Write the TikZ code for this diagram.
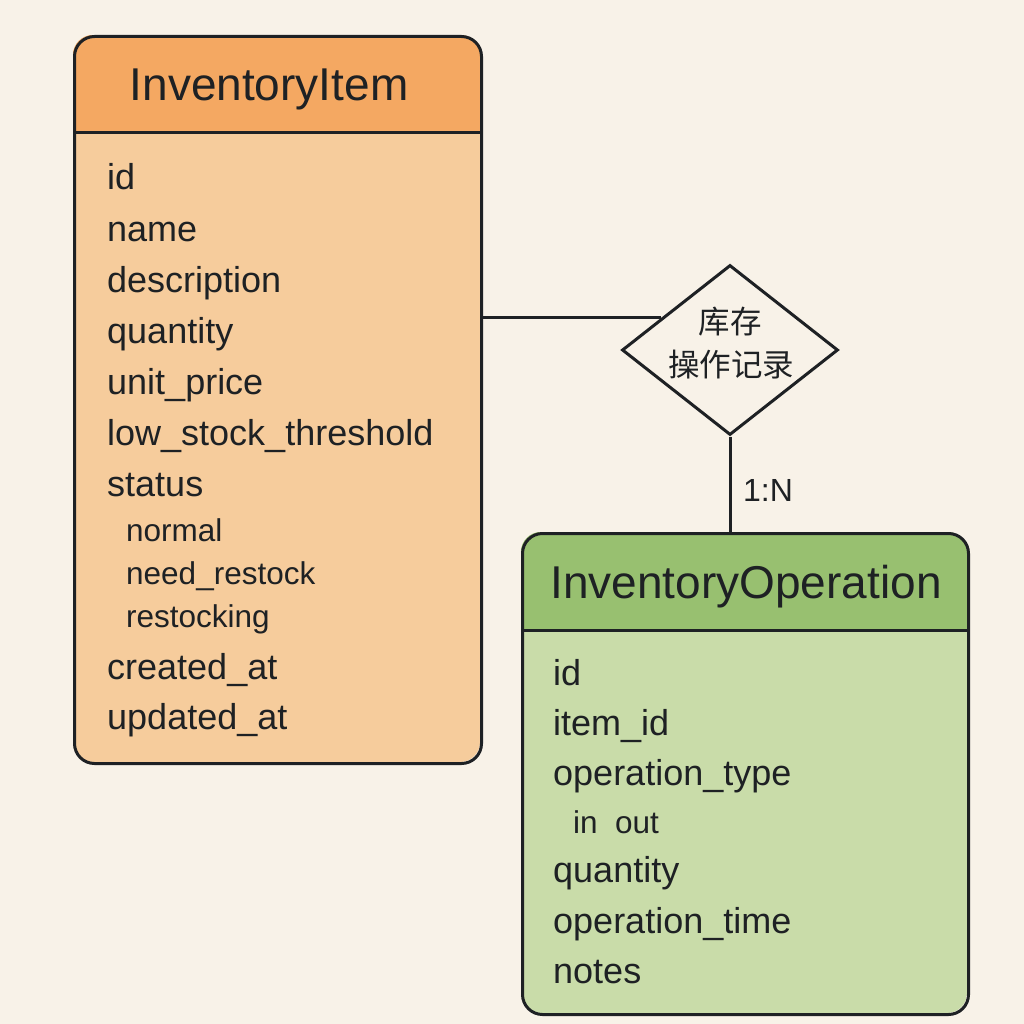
\documentclass[tikz,border=0pt]{standalone}
\usepackage{fontspec}
\setmainfont{Liberation Sans}
\newfontfamily\cjk{Noto Sans CJK SC}
\usetikzlibrary{shapes.geometric}
\definecolor{bg}{HTML}{F8F2E8}
\definecolor{headA}{HTML}{F4A862}
\definecolor{bodyA}{HTML}{F6CC9C}
\definecolor{headB}{HTML}{98C070}
\definecolor{bodyB}{HTML}{C9DCA9}
\definecolor{ink}{HTML}{1E2124}
\begin{document}
\begin{tikzpicture}[x=1pt,y=-1pt,
  outline/.style={draw=ink,line width=3pt},
  entbox/.style={outline,rounded corners=20pt,inner sep=0pt,anchor=north west},
  title/.style={anchor=base,text=ink,inner sep=0pt,font=\fontsize{46}{46}\selectfont},
  attr/.style={anchor=base west,text=ink,inner sep=0pt,font=\fontsize{36}{36}\selectfont},
  sub/.style={anchor=base west,text=ink,inner sep=0pt,font=\fontsize{31.5}{31.5}\selectfont},
  link/.style={draw=ink,line width=3pt}]
\fill[bg] (0,0) rectangle (1024,1024);
\useasboundingbox (0,0) rectangle (1024,1024);

% InventoryItem box
\begin{scope}
\clip[rounded corners=20pt] (73,35) rectangle (480,762);
\fill[bodyA] (73,35) rectangle (480,762);
\fill[headA] (73,35) rectangle (480,133);
\end{scope}
\node[entbox,minimum width=407pt,minimum height=727pt] (item) at (73,35) {};
\draw[outline] (73,133) -- (480,133);
\node[title] (itemT) at (269,101) {InventoryItem};
\node[attr] (a1) at (107,190) {id};
\node[attr] (a2) at (107,241) {name};
\node[attr] (a3) at (107,292) {description};
\node[attr] (a4) at (107,343) {quantity};
\node[attr] (a5) at (107,394) {unit\_price};
\node[attr] (a6) at (107,445) {low\_stock\_threshold};
\node[attr] (a7) at (107,496) {status};
\node[sub] (a8) at (126,541) {normal};
\node[sub] (a9) at (126,584) {need\_restock};
\node[sub] (a10) at (126,627) {restocking};
\node[attr] (a11) at (107,679) {created\_at};
\node[attr] (a12) at (107,729) {updated\_at};

% InventoryOperation box
\begin{scope}
\clip[rounded corners=20pt] (521,532) rectangle (967,1013);
\fill[bodyB] (521,532) rectangle (967,1013);
\fill[headB] (521,532) rectangle (967,630);
\end{scope}
\node[entbox,minimum width=446pt,minimum height=481pt] (op) at (521,532) {};
\draw[outline] (521,630) -- (967,630);
\node[title] (opT) at (746,598) {InventoryOperation};
\node[attr] (b1) at (553,685) {id};
\node[attr] (b2) at (553,735) {item\_id};
\node[attr] (b3) at (553,785) {operation\_type};
\node[sub] (b4) at (573,833) {in\ \ out};
\node[attr] (b5) at (553,882) {quantity};
\node[attr] (b6) at (553,933) {operation\_time};
\node[attr] (b7) at (553,983) {notes};

% relationship diamond
\node[diamond,outline,fill=bg,minimum width=216pt,minimum height=170pt,aspect=1.27,inner sep=0pt] (rel) at (730,350) {};
\node[text=ink,inner sep=0pt,font=\cjk\fontsize{31.5}{31.5}\selectfont] (relA) at (730,322) {库存};
\node[text=ink,inner sep=0pt,font=\cjk\fontsize{31.5}{31.5}\selectfont] (relB) at (731,365) {操作记录};

% connectors
\draw[link] (item.east |- rel.155) -- (rel.155);
\draw[link] (rel.south) -- (rel.south |- op.north);
\node[text=ink,inner sep=0pt,font=\fontsize{32}{32}\selectfont] (card) at (768,490) {1:N};
\end{tikzpicture}
\end{document}
